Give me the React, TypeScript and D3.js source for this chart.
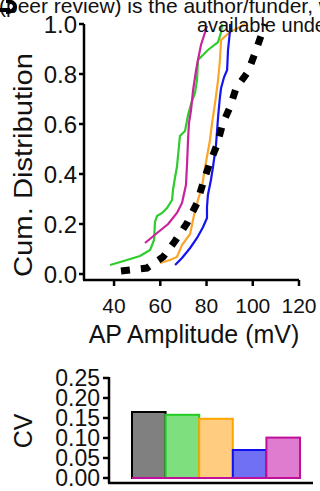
import React from "react";
import * as d3 from "d3";

// ---- data ----
const xTicks = [40, 60, 80, 100, 120];
const yTicks = [0, 0.2, 0.4, 0.6, 0.8, 1.0];

const allX = [43.0, 54.3, 61.2, 66.4, 71.6, 75.9, 78.5, 81.1, 84.5, 87.1, 90.2, 92.8, 97.9, 101.0, 104.0, 105.3];
const allY = [0.012, 0.024, 0.068, 0.132, 0.204, 0.284, 0.364, 0.436, 0.516, 0.604, 0.668, 0.744, 0.808, 0.884, 0.964, 1.0];

const greenX = [38.3, 45.6, 51.2, 55.6, 57.3, 57.7, 58.6, 60.8, 62.9, 65.1, 65.5, 66.4, 67.2, 68.5, 70.7, 72.0, 73.3, 75.0, 75.9, 76.3, 80.6, 85.0, 86.3, 86.7];
const greenY = [0.036, 0.056, 0.072, 0.096, 0.136, 0.208, 0.232, 0.244, 0.264, 0.296, 0.336, 0.388, 0.428, 0.552, 0.572, 0.636, 0.68, 0.724, 0.776, 0.856, 0.896, 0.928, 0.968, 1.0];

const magentaX = [53.4, 58.6, 63.4, 67.2, 69.4, 71.1, 71.6, 72.0, 72.4, 73.3, 74.2, 75.5, 76.3, 77.6, 79.4, 80.2];
const magentaY = [0.124, 0.164, 0.2, 0.244, 0.284, 0.356, 0.444, 0.536, 0.604, 0.656, 0.736, 0.816, 0.856, 0.916, 0.968, 0.992];

const orangeX = [59.9, 64.2, 67.2, 69.4, 71.6, 72.9, 74.6, 76.3, 78.1, 79.4, 81.5, 82.4, 83.7, 85.0, 85.8, 86.3, 90.2, 94.5, 96.6];
const orangeY = [0.044, 0.056, 0.068, 0.116, 0.144, 0.16, 0.236, 0.296, 0.352, 0.428, 0.536, 0.604, 0.684, 0.776, 0.856, 0.936, 0.968, 0.988, 1.0];

const blueX = [66.4, 69.4, 72.9, 75.9, 78.5, 80.2, 80.2, 80.6, 81.9, 82.8, 84.1, 85.0, 85.8, 86.3, 87.6, 88.9, 89.3, 90.2, 90.2];
const blueY = [0.036, 0.064, 0.104, 0.144, 0.188, 0.224, 0.268, 0.316, 0.376, 0.428, 0.516, 0.628, 0.708, 0.744, 0.788, 0.816, 0.896, 0.976, 1.0];

const cvGroups = ["all", "green", "orange", "blue", "magenta"];
const cvValues = [0.165, 0.158, 0.148, 0.07, 0.101];
const cvTicks = [0, 0.05, 0.1, 0.15, 0.2, 0.25];
const cvFills = ["#808080", "#7ddf7d", "#ffcc80", "#7070f5", "#e07ccf"];
const cvStrokes = ["#000000", "#22cc22", "#ffa500", "#1010ee", "#c0109a"];

const FONT = "'Liberation Sans', Arial, sans-serif";

export default function App() {
  // top chart scales
  const x = d3.scaleLinear().domain([27, 120]).range([84, 299]);
  const y = d3.scaleLinear().domain([0, 1]).range([274, 24]);
  const axisY = 280;

  const line = d3
    .line<[number, number]>()
    .x((d) => x(d[0]))
    .y((d) => y(d[1]));
  const zip = (a: number[], b: number[]) => a.map((v, i) => [v, b[i]] as [number, number]);

  const series = [
    { xs: greenX, ys: greenY, color: "#2ecc2e" },
    { xs: magentaX, ys: magentaY, color: "#c8239b" },
    { xs: orangeX, ys: orangeY, color: "#fba62a" },
    { xs: blueX, ys: blueY, color: "#1414f0" },
  ];

  // bottom chart scales
  const bx = d3.scaleBand<string>().domain(cvGroups).range([132, 300]).padding(0);
  const by = d3.scaleLinear().domain([0, 0.25]).range([478, 378]);
  const bAxisY = 483;

  return (
    <svg
      width={320}
      height={491}
      style={{ position: "absolute", left: 0, top: 0, background: "#fff" }}
      fontFamily={FONT}
    >
      <rect x={0} y={0} width={320} height={491} fill="#fff" />

      {/* CDF lines */}
      {series.map((s, i) => (
        <path key={i} d={line(zip(s.xs, s.ys)) || ""} fill="none" stroke={s.color} strokeWidth={2.2} />
      ))}
      <path
        d={line(zip(allX, allY)) || ""}
        fill="none"
        stroke="#000"
        strokeWidth={7}
        strokeDasharray="9 11"
      />

      {/* top axes */}
      <line x1={x(27)} x2={x(27)} y1={y(1)} y2={axisY} stroke="#000" strokeWidth={2.5} />
      <line x1={x(27) - 1} x2={x(120)} y1={axisY} y2={axisY} stroke="#000" strokeWidth={2.5} />
      {yTicks.map((t) => (
        <g key={t}>
          <line x1={x(27) - 5} x2={x(27)} y1={y(t)} y2={y(t)} stroke="#000" strokeWidth={2.5} />
          <text x={77} y={y(t) + 8.5} fontSize={24} textAnchor="end" fill="#111">
            {t.toFixed(1)}
          </text>
        </g>
      ))}
      {xTicks.map((t) => (
        <g key={t}>
          <line x1={x(t)} x2={x(t)} y1={axisY} y2={axisY + 6} stroke="#000" strokeWidth={2.5} />
          <text x={x(t)} y={313} fontSize={21} textAnchor="middle" fill="#111">
            {t}
          </text>
        </g>
      ))}
      <text x={194} y={343} fontSize={25} textAnchor="middle" fill="#111">
        AP Amplitude (mV)
      </text>
      <text
        transform="translate(32,165) rotate(-90)"
        fontSize={26}
        textAnchor="middle"
        textLength={224}
        lengthAdjust="spacingAndGlyphs"
        fill="#111"
      >
        Cum. Distribution
      </text>

      {/* bottom chart bars */}
      {cvGroups.map((g, i) => (
        <rect
          key={g}
          x={bx(g)!}
          y={by(cvValues[i])}
          width={bx.bandwidth()}
          height={by(0) - by(cvValues[i])}
          fill={cvFills[i]}
          stroke={cvStrokes[i]}
          strokeWidth={2}
        />
      ))}
      <line x1={bx.range()[0]} x2={bx.range()[1]} y1={by(0)} y2={by(0)} stroke="#c0109a" strokeWidth={2} />

      {/* bottom axes */}
      <line x1={109} x2={109} y1={by(0.25) - 1} y2={bAxisY} stroke="#000" strokeWidth={2.5} />
      <line x1={108} x2={313} y1={bAxisY} y2={bAxisY} stroke="#000" strokeWidth={2.5} />
      {cvTicks.map((t) => (
        <g key={t}>
          <line x1={103} x2={109} y1={by(t)} y2={by(t)} stroke="#000" strokeWidth={2.5} />
          <text x={100} y={by(t) + 8} fontSize={23} textAnchor="end" fill="#111">
            {t.toFixed(2)}
          </text>
        </g>
      ))}
      <text transform="translate(32,431) rotate(-90)" fontSize={25} textAnchor="middle" fill="#111">
        CV
      </text>

      {/* header text fragments */}
      <text x={-1} y={12.5} fontSize={21} fill="#111">
        (peer review) is the author/funder, who has granted
      </text>
      <text x={197} y={31.5} fontSize={20} fill="#111">
        available under a
      </text>
      <path d="M0,10 L10,10 M6,1 C18,1 18,12 6,12" fill="none" stroke="#000" strokeWidth={4} />
    </svg>
  );
}
